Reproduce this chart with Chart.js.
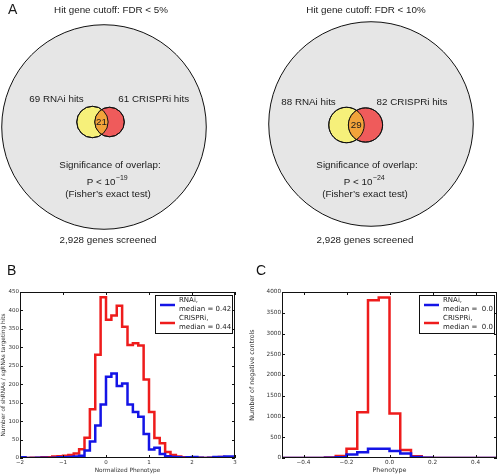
<!DOCTYPE html>
<html>
<head>
<meta charset="utf-8">
<script src="https://cdn.jsdelivr.net/npm/chart.js@4.4.1/dist/chart.umd.min.js"></script>
<style>
  body { margin: 0; background: #fff; }
  #wrap { position: relative; width: 498px; height: 474px; overflow: hidden; }
  canvas { position: absolute; }
</style>
</head>
<body>
<div id="wrap">
  <canvas id="vennLeft" width="249" height="250" style="left:0;top:0"></canvas>
  <canvas id="vennRight" width="249" height="250" style="left:249px;top:0"></canvas>
  <canvas id="histB" width="249" height="224" style="left:0;top:250px"></canvas>
  <canvas id="histC" width="249" height="224" style="left:249px;top:250px"></canvas>
</div>
<script>
// --- panel A: hit overlap ---
const fdrCutoffs = ['5%', '10%'];
const rnaiHits = [69, 88];
const crispriHits = [61, 82];
const overlapHits = [21, 29];
const overlapExponents = [-19, -24];
const genesScreened = 2928;

// --- panel B: hits histogram (bin edges, counts per bin) ---
const edgesB = [-2, -1.875, -1.75, -1.625, -1.5, -1.375, -1.25, -1.125, -1, -0.875,
  -0.75, -0.625, -0.5, -0.375, -0.25, -0.125, 0, 0.125, 0.25, 0.375,
  0.5, 0.625, 0.75, 0.875, 1, 1.125, 1.25, 1.375, 1.5, 1.625,
  1.75, 1.875, 2, 2.125, 2.25, 2.375, 2.5, 2.625, 2.75, 2.875, 3];
const rnaiHitCounts = [3, 2, 0, 0, 1, 1, 0, 1, 2, 2,
  3, 4, 6, 20, 45, 88, 145, 220, 229, 195,
  202, 145, 125, 112, 65, 23, 28, 11, 5, 3,
  2, 1, 2, 3, 1, 0, 1, 3, 3, 4];
const crispriHitCounts = [0, 2, 0, 1, 1, 2, 2, 4, 5, 6,
  8, 12, 24, 55, 132, 280, 436, 375, 386, 413,
  356, 306, 311, 305, 213, 125, 54, 40, 16, 8,
  4, 2, 2, 1, 1, 0, 1, 2, 3, 2];
const mediansB = ['0.42', '0.44'];
const xTicksB = [-2, -1, 0, 1, 2, 3];
const yTicksB = [0, 50, 100, 150, 200, 250, 300, 350, 400, 450];

// --- panel C: negative controls histogram ---
const edgesC = [-0.5, -0.45, -0.4, -0.35, -0.3, -0.25, -0.2, -0.15, -0.1, -0.05,
  0, 0.05, 0.1, 0.15, 0.2, 0.25, 0.3, 0.35, 0.4, 0.45, 0.5];
const rnaiControlCounts = [0, 1, 0, 1, 2, 5, 20, 85, 140, 222,
  222, 168, 110, 25, 5, 2, 1, 0, 0, 0];
const crispriControlCounts = [0, 1, 1, 2, 3, 15, 50, 220, 1100, 3800,
  3870, 1070, 190, 45, 8, 2, 1, 1, 0, 1];
const mediansC = [' 0.0', ' 0.0'];
const xTicksC = [-0.4, -0.2, 0, 0.2, 0.4];
const yTicksC = [0, 500, 1000, 1500, 2000, 2500, 3000, 3500, 4000];

const BLUE = '#1414e6';
const RED = '#ee1c1c';
const smallFont = '"DejaVu Sans", sans-serif';
const labelFont = '"Liberation Sans", Arial, sans-serif';

// lens area of two circles at distance d
function lensArea(r1, r2, d) {
  if (d >= r1 + r2) return 0;
  if (d <= Math.abs(r1 - r2)) return Math.PI * Math.min(r1, r2) ** 2;
  const a1 = r1 * r1 * Math.acos((d * d + r1 * r1 - r2 * r2) / (2 * d * r1));
  const a2 = r2 * r2 * Math.acos((d * d + r2 * r2 - r1 * r1) / (2 * d * r2));
  const t = 0.5 * Math.sqrt((-d + r1 + r2) * (d + r1 - r2) * (d - r1 + r2) * (d + r1 + r2));
  return a1 + a2 - t;
}
function centerDistance(r1, r2, area) {
  let lo = Math.abs(r1 - r2), hi = r1 + r2;
  for (let i = 0; i < 60; i++) {
    const mid = (lo + hi) / 2;
    if (lensArea(r1, r2, mid) > area) lo = mid; else hi = mid;
  }
  return (lo + hi) / 2;
}

// big circle centre, pair centre and text rows, in canvas px
const vennLayout = [
  {cx: 104, cy: 127, px: 101, py: 122, titleX: 111, textX: 110},
  {cx: 122, cy: 124, px: 107, py: 125, titleX: 117, textX: 118}
];
const K = 1.89; // px per sqrt(gene)

function drawText(ctx, txt, x, y, size, align) {
  ctx.font = size + 'px ' + labelFont;
  ctx.textAlign = align || 'center';
  ctx.textBaseline = 'middle';
  ctx.fillText(txt, x, y);
}

function makeVenn(id, i) {
  const L = vennLayout[i];
  const rA = K * Math.sqrt(rnaiHits[i]);
  const rB = K * Math.sqrt(crispriHits[i]);
  const d = centerDistance(rA, rB, Math.PI * K * K * overlapHits[i]);

  const vennText = {
    id: 'vennText',
    afterDatasetsDraw(chart) {
      const ctx = chart.ctx;
      const a = chart.getDatasetMeta(1).data[0];
      const b = chart.getDatasetMeta(2).data[0];
      const ra = a.options.radius, rb = b.options.radius;
      ctx.save();
      // overlap region
      ctx.beginPath(); ctx.arc(a.x, a.y, ra, 0, Math.PI * 2); ctx.clip();
      ctx.beginPath(); ctx.arc(b.x, b.y, rb, 0, Math.PI * 2);
      ctx.fillStyle = '#f2a33a'; ctx.fill();
      ctx.restore();
      ctx.save();
      ctx.strokeStyle = '#111'; ctx.lineWidth = 1;
      ctx.beginPath(); ctx.arc(a.x, a.y, ra, 0, Math.PI * 2); ctx.stroke();
      ctx.beginPath(); ctx.arc(b.x, b.y, rb, 0, Math.PI * 2); ctx.stroke();

      ctx.fillStyle = '#1a1a1a';
      const lensX = ((b.x - rb) + (a.x + ra)) / 2;
      drawText(ctx, String(overlapHits[i]), lensX, a.y, 9.8);
      drawText(ctx, 'Hit gene cutoff: FDR < ' + fdrCutoffs[i], L.titleX, 10, 9.8);
      drawText(ctx, rnaiHits[i] + ' RNAi hits', a.x - ra + 7, L.py - 23, 9.8, 'right');
      drawText(ctx, crispriHits[i] + ' CRISPRi hits', b.x + rb - 6, L.py - 23, 9.8, 'left');
      drawText(ctx, 'Significance of overlap:', L.textX, 165, 9.8);
      // P < 10^exp
      ctx.font = '9.8px ' + labelFont;
      const base = 'P < 10';
      const sup = '\u2212' + Math.abs(overlapExponents[i]);
      const wBase = ctx.measureText(base).width;
      ctx.font = '7px ' + labelFont;
      const wSup = ctx.measureText(sup).width;
      const x0 = L.textX - 3 - (wBase + wSup) / 2;
      drawText(ctx, base, x0, 182, 9.8, 'left');
      drawText(ctx, sup, x0 + wBase + 0.5, 178, 7, 'left');
      drawText(ctx, '(Fisher\u2019s exact test)', L.textX - 2, 194, 9.8);
      drawText(ctx, genesScreened.toLocaleString('en-US') + ' genes screened', L.textX - 2, 240, 9.8);
      if (i === 0) drawText(ctx, 'A', 8, 10, 14, 'left');
      ctx.restore();
    }
  };

  return new Chart(document.getElementById(id), {
    type: 'bubble',
    data: {
      datasets: [
        {label: 'screened', data: [{x: L.cx, y: L.cy, r: K * Math.sqrt(genesScreened)}],
          backgroundColor: '#e6e6e6', borderColor: '#111', borderWidth: 1, order: 3},
        {label: 'RNAi', data: [{x: L.px - d / 2, y: L.py, r: rA}],
          backgroundColor: '#f6f07a', borderColor: '#111', borderWidth: 1, order: 2},
        {label: 'CRISPRi', data: [{x: L.px + d / 2, y: L.py, r: rB}],
          backgroundColor: '#ef5b5b', borderColor: '#111', borderWidth: 1, order: 1}
      ]
    },
    options: {
      responsive: false, animation: false, devicePixelRatio: 1, events: [],
      layout: {padding: 0, autoPadding: false},
      plugins: {legend: {display: false}, tooltip: {enabled: false}},
      scales: {
        x: {type: 'linear', min: 0, max: 249, display: false},
        y: {type: 'linear', min: 0, max: 250, reverse: true, display: false}
      }
    },
    plugins: [vennText]
  });
}

function stepPoints(edges, counts) {
  const pts = [{x: edges[0], y: 0}];
  counts.forEach((c, j) => pts.push({x: edges[j], y: c}));
  pts.push({x: edges[edges.length - 1], y: counts[counts.length - 1]});
  pts.push({x: edges[edges.length - 1], y: 0});
  return pts;
}

function fmt(v, dec) {
  const s = Math.abs(v).toFixed(dec);
  return (v < -1e-9 ? '\u2212' : '') + s;
}

const frameTicks = {
  id: 'frameTicks',
  afterDraw(chart) {
    const {ctx, chartArea: a, scales: {x, y}} = chart;
    ctx.save();
    ctx.strokeStyle = '#111';
    ctx.lineWidth = 1;
    ctx.strokeRect(a.left + 0.5, a.top + 0.5, a.right - a.left - 1, a.bottom - a.top - 1);
    ctx.beginPath();
    x.ticks.forEach(t => {
      const p = Math.round(x.getPixelForValue(t.value)) + 0.5;
      ctx.moveTo(p, a.bottom); ctx.lineTo(p, a.bottom - 3);
      ctx.moveTo(p, a.top); ctx.lineTo(p, a.top + 3);
    });
    y.ticks.forEach(t => {
      const p = Math.round(y.getPixelForValue(t.value)) + 0.5;
      ctx.moveTo(a.left, p); ctx.lineTo(a.left + 3, p);
      ctx.moveTo(a.right, p); ctx.lineTo(a.right - 3, p);
    });
    ctx.stroke();
    ctx.restore();
  }
};

function boxLegend(medians, w) {
  return {
    id: 'boxLegend',
    afterDraw(chart) {
      const {ctx, chartArea: a} = chart;
      const x0 = a.right - w - 3, y0 = a.top + 3, h = 38;
      ctx.save();
      ctx.fillStyle = '#fff';
      ctx.fillRect(x0, y0, w, h);
      ctx.strokeStyle = '#111'; ctx.lineWidth = 1;
      ctx.strokeRect(x0 + 0.5, y0 + 0.5, w, h);
      const names = chart.data.datasets.map(ds => ds.label);
      const colors = chart.data.datasets.map(ds => ds.borderColor);
      names.forEach((n, j) => {
        const cy = y0 + 10 + j * 18;
        ctx.strokeStyle = colors[j]; ctx.lineWidth = 2.5;
        ctx.beginPath(); ctx.moveTo(x0 + 5, cy); ctx.lineTo(x0 + 20, cy); ctx.stroke();
        ctx.fillStyle = '#222';
        ctx.font = '7px ' + smallFont;
        ctx.textAlign = 'left'; ctx.textBaseline = 'middle';
        ctx.fillText(n + ',', x0 + 24, cy - 4.5);
        ctx.fillText('median = ' + medians[j], x0 + 24, cy + 4.5);
      });
      ctx.restore();
    }
  };
}

function panelLabel(letter) {
  return {
    id: 'panelLabel',
    afterDraw(chart) {
      const ctx = chart.ctx;
      ctx.save();
      ctx.fillStyle = '#111';
      drawText(ctx, letter, 7, 21, 14, 'left');
      ctx.restore();
    }
  };
}

function makeHist(id, letter, edges, rnai, crispri, medians, xTicks, yTicks, xDec, yTitle, xTitle, yWidth, legendW, tickSize, titleSize) {
  return new Chart(document.getElementById(id), {
    type: 'line',
    data: {
      datasets: [
        {label: 'RNAi', data: stepPoints(edges, rnai), borderColor: BLUE, borderWidth: 2.5,
          stepped: 'after', pointRadius: 0, fill: false},
        {label: 'CRISPRi', data: stepPoints(edges, crispri), borderColor: RED, borderWidth: 2.5,
          stepped: 'after', pointRadius: 0, fill: false}
      ]
    },
    options: {
      responsive: false, animation: false, devicePixelRatio: 1, events: [],
      layout: {padding: {top: 42, right: 249 - yWidth - 215, left: 0, bottom: 0}, autoPadding: false},
      plugins: {legend: {display: false}, tooltip: {enabled: false}},
      scales: {
        x: {
          type: 'linear', min: edges[0], max: edges[edges.length - 1],
          afterBuildTicks: s => { s.ticks = xTicks.map(v => ({value: v})); },
          afterFit: s => { s.height = 16; },
          grid: {display: false, drawTicks: false}, border: {display: false},
          ticks: {font: {family: smallFont, size: tickSize}, color: '#333', padding: 1, maxRotation: 0,
            callback: v => fmt(v, xDec)},
          title: {display: true, text: xTitle, font: {family: smallFont, size: titleSize}, color: '#333',
            padding: {top: 0, bottom: 0}}
        },
        y: {
          type: 'linear', min: yTicks[0], max: yTicks[yTicks.length - 1],
          afterBuildTicks: s => { s.ticks = yTicks.map(v => ({value: v})); },
          afterFit: s => { s.width = yWidth; },
          grid: {display: false, drawTicks: false}, border: {display: false},
          ticks: {font: {family: smallFont, size: tickSize}, color: '#333', padding: 1,
            callback: v => String(v)},
          title: {display: true, text: yTitle, font: {family: smallFont, size: titleSize}, color: '#333',
            padding: {top: 0, bottom: 0}}
        }
      }
    },
    plugins: [frameTicks, boxLegend(medians, legendW), panelLabel(letter)]
  });
}

makeVenn('vennLeft', 0);
makeVenn('vennRight', 1);
makeHist('histB', 'B', edgesB, rnaiHitCounts, crispriHitCounts, mediansB, xTicksB, yTicksB, 0,
  'Number of shRNAs / sgRNAs targeting hits', 'Normalized Phenotype', 20, 77, 5.5, 5.8);
makeHist('histC', 'C', edgesC, rnaiControlCounts, crispriControlCounts, mediansC, xTicksC, yTicksC, 1,
  'Number of negative controls', 'Phenotype', 33, 75, 5.7, 6.4);
</script>
</body>
</html>
